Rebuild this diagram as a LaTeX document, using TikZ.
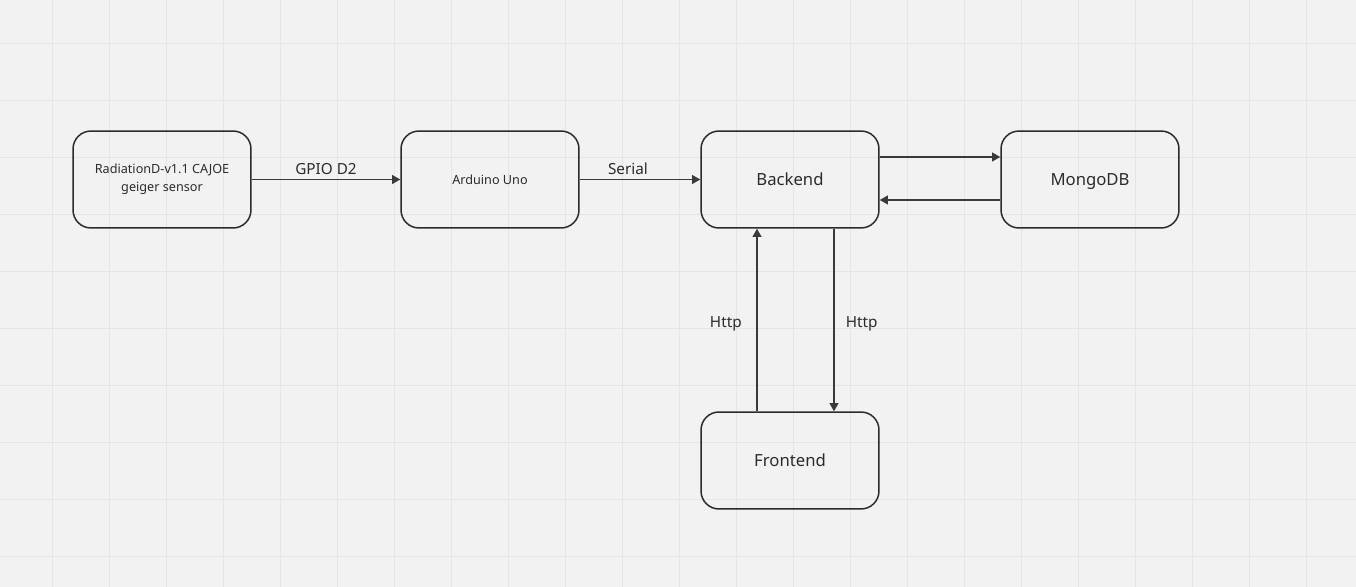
\documentclass[tikz,border=0pt]{standalone}
\usepackage{fontspec}
\setmainfont{Noto Sans}
\usetikzlibrary{arrows.meta}
\usetikzlibrary{positioning}

\definecolor{paper}{HTML}{F2F2F2}
\definecolor{gridgray}{HTML}{E5E5E5}
\definecolor{ink}{HTML}{2B2B2B}
\definecolor{wire}{HTML}{3A3A3A}

\tikzset{
  box/.style={draw=ink, line width=0.85pt, rounded corners=0.36cm,
    minimum width=3.56cm, minimum height=1.94cm, inner sep=0pt,
    text=ink, align=center, font=\fontsize{9.5}{11}\selectfont,
    text height=1.5ex, text depth=0.3ex},
  smallbox/.style={box, font=\fontsize{7.2}{10.2}\selectfont,
    text height=, text depth=},
  link/.style={draw=wire, line width=0.75pt,
    -{Triangle[length=4.6pt,width=5pt]}},
  linklabel/.style={text=ink, font=\fontsize{8.7}{10}\selectfont,
    text height=1.5ex, text depth=0pt},
  gridline/.style={draw=gridgray, line width=0.6pt}
}

\begin{document}
\begin{tikzpicture}[x=0.02cm, y=-0.02cm]

% background and grid
\fill[paper] (0,0) rectangle (1356,587);
\useasboundingbox (0,0) rectangle (1356,587);
\foreach \gx in {0,...,22}
  \draw[gridline] (52.3+57*\gx,0) -- (52.3+57*\gx,587);
\foreach \gy in {0,...,9}
  \draw[gridline] (0,43.3+57*\gy) -- (1356,43.3+57*\gy);

% boxes
\node[smallbox] (sensor) at (162,179.5) {RadiationD-v1.1 CAJOE\\geiger sensor};
\node[smallbox] (arduino) at (490,179.5) {Arduino Uno};
\node[box] (backend) at (790,179.5) {Backend};
\node[box] (mongo) at (1090,179.5) {MongoDB};
\node[box] (frontend) at (790,460.5) {Frontend};

% sensor chain
\draw[link] (sensor) -- node[linklabel, above=-0.6pt] {GPIO D2} (arduino);
\draw[link] (arduino) -- node[linklabel, above=-0.6pt, pos=0.4] {Serial} (backend);

% database
\draw[link] ([yshift=0.45cm]backend.east) -- ([yshift=0.45cm]mongo.west);
\draw[link] ([yshift=-0.41cm]mongo.west) -- ([yshift=-0.41cm]backend.east);

% http
\draw[link] ([xshift=-0.66cm]frontend.north) -- node[linklabel, left=5pt] {Http} ([xshift=-0.66cm]backend.south);
\draw[link] ([xshift=0.88cm]backend.south) -- node[linklabel, right=3pt] {Http} ([xshift=0.88cm]frontend.north);

\end{tikzpicture}
\end{document}
